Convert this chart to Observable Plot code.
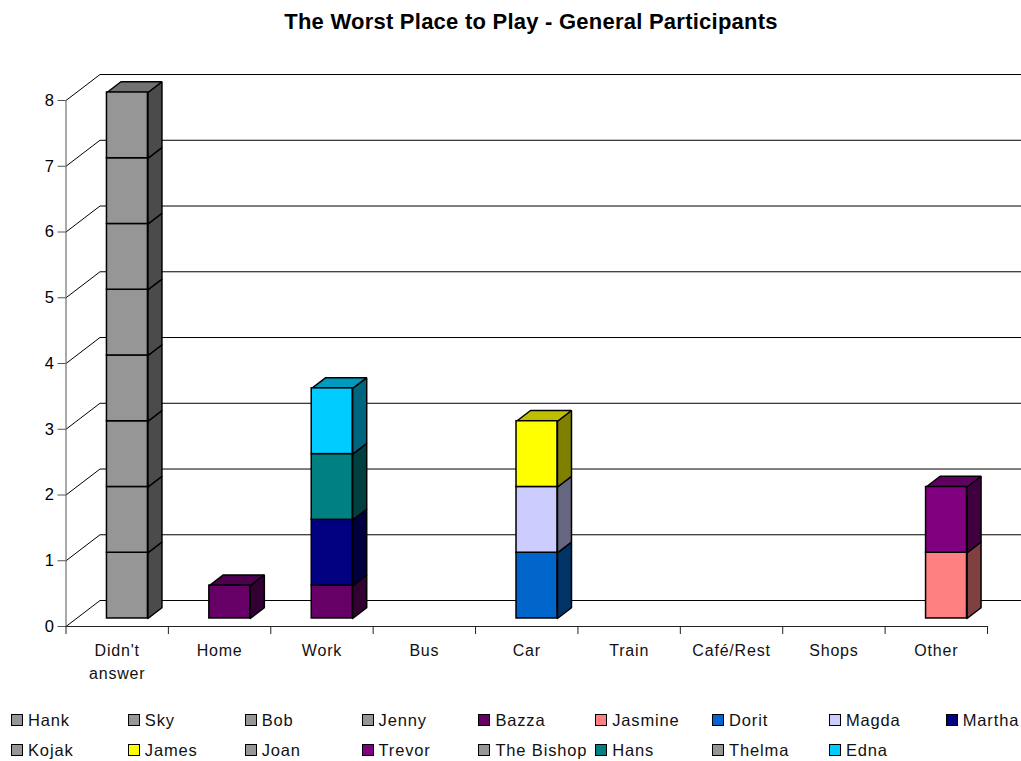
<!DOCTYPE html>
<html>
<head>
<meta charset="utf-8">
<script src="https://cdn.jsdelivr.net/npm/d3@7"></script>
<script src="https://cdn.jsdelivr.net/npm/@observablehq/plot@0.6"></script>
<style>
  html, body { margin: 0; padding: 0; background: #fff; overflow: hidden; }
  body { width: 1021px; height: 761px; font-family: "Liberation Sans", Arial, sans-serif; color: #000; }
  #title { height: 50px; box-sizing: border-box; padding: 10px 0 0 41px; text-align: center; font-size: 22px; letter-spacing: 0.24px; font-weight: bold; line-height: 24px; white-space: nowrap; }
  #chart svg { display: block; }
  #legend { display: grid; grid-template-columns: repeat(9, 116.85px); grid-auto-rows: 30px; padding: 15px 0 0 11px; font-size: 16.5px; letter-spacing: 0.85px; color: #111; }
  .key { display: flex; align-items: center; white-space: nowrap; line-height: 30px; }
  .swatch { width: 10px; height: 10px; border: 1px solid #000; margin-right: 5px; flex: none; }
</style>
</head>
<body>
<div id="title">The Worst Place to Play - General Participants</div>
<div id="chart"></div>
<div id="legend"></div>
<script>
const places = ["Didn't\nanswer", "Home", "Work", "Bus", "Car", "Train", "Café/Rest", "Shops", "Other"];
const people = ["Hank", "Sky", "Bob", "Jenny", "Bazza", "Jasmine", "Dorit", "Magda", "Martha",
                "Kojak", "James", "Joan", "Trevor", "The Bishop", "Hans", "Thelma", "Edna"];
const colors = ["#969696", "#969696", "#969696", "#969696", "#660066", "#FF8080", "#0066CC", "#CCCCFF", "#000080",
                "#969696", "#FFFF00", "#969696", "#800080", "#969696", "#008080", "#969696", "#00CCFF"];

// Votes per place, one list per person, in the order of `places`.
const hank     = [1, 0, 0, 0, 0, 0, 0, 0, 0];
const sky      = [1, 0, 0, 0, 0, 0, 0, 0, 0];
const bob      = [1, 0, 0, 0, 0, 0, 0, 0, 0];
const jenny    = [1, 0, 0, 0, 0, 0, 0, 0, 0];
const bazza    = [0, 0.5, 0.5, 0, 0, 0, 0, 0, 0];
const jasmine  = [0, 0, 0, 0, 0, 0, 0, 0, 1];
const dorit    = [0, 0, 0, 0, 1, 0, 0, 0, 0];
const magda    = [0, 0, 0, 0, 1, 0, 0, 0, 0];
const martha   = [0, 0, 1, 0, 0, 0, 0, 0, 0];
const kojak    = [1, 0, 0, 0, 0, 0, 0, 0, 0];
const james    = [0, 0, 0, 0, 1, 0, 0, 0, 0];
const joan     = [1, 0, 0, 0, 0, 0, 0, 0, 0];
const trevor   = [0, 0, 0, 0, 0, 0, 0, 0, 1];
const bishop   = [1, 0, 0, 0, 0, 0, 0, 0, 0];
const hans     = [0, 0, 1, 0, 0, 0, 0, 0, 0];
const thelma   = [1, 0, 0, 0, 0, 0, 0, 0, 0];
const edna     = [0, 0, 1, 0, 0, 0, 0, 0, 0];
const votes = [hank, sky, bob, jenny, bazza, jasmine, dorit, magda, martha,
               kojak, james, joan, trevor, bishop, hans, thelma, edna];

const yTicks = [0, 1, 2, 3, 4, 5, 6, 7, 8];

// Perspective offsets, expressed in scale units so that everything passes through x and y.
const wallDx = 0.332, wallDy = 0.395;      // depth of the floor
const barDx = 0.137, barDy = 0.163;        // depth of a column
const barLift = 0.122, barShift = 0.1;     // column sits inside the floor
const barHalf = 0.2;
const rightEdge = 9.35;

const shade = (c, k) => { const r = d3.rgb(c); return d3.rgb(r.r * k, r.g * k, r.b * k).formatHex(); };

// Stack the segments per place, in series order.
const segments = [];
const heights = places.map(() => 0);
votes.forEach((row, s) => row.forEach((v, p) => {
  if (v > 0) {
    const cx = p + 0.5 + barShift;
    segments.push({
      person: people[s], color: colors[s],
      x1: cx - barHalf, x2: cx + barHalf,
      y1: barLift + heights[p], y2: barLift + heights[p] + v
    });
    heights[p] += v;
  }
}));

// Side and top faces as closed outlines, lowest segment first.
const faces = [];
segments.forEach((d, i) => {
  const side = [[d.x2, d.y1], [d.x2 + barDx, d.y1 + barDy], [d.x2 + barDx, d.y2 + barDy], [d.x2, d.y2], [d.x2, d.y1]];
  const top = [[d.x1, d.y2], [d.x1 + barDx, d.y2 + barDy], [d.x2 + barDx, d.y2 + barDy], [d.x2, d.y2], [d.x1, d.y2]];
  side.forEach(([x, y]) => faces.push({id: `s${i}`, x, y, fill: shade(d.color, 0.5)}));
  top.forEach(([x, y]) => faces.push({id: `t${i}`, x, y, fill: shade(d.color, 0.75)}));
});

// Floor-to-wall grid lines.
const grid = yTicks.flatMap(k => [
  {k, x: 0, y: k},
  {k, x: wallDx, y: k + wallDy},
  {k, x: rightEdge, y: k + wallDy}
]);

const labels = places.map((name, i) => ({name, x: i + 0.5}));

const chart = Plot.plot({
  width: 1021,
  height: 640,
  marginTop: 50,
  marginBottom: 64,
  marginLeft: 65.5,
  marginRight: 34,
  style: {fontFamily: '"Liberation Sans", Arial, sans-serif', color: "#000", background: "#fff", overflow: "visible"},
  x: {domain: [0, 9], axis: null},
  y: {domain: [0, 8], axis: null},
  color: {type: "identity"},
  marks: [
    Plot.line(grid, {x: "x", y: "y", z: "k", stroke: "#000", strokeWidth: 1}),
    Plot.ruleX([0], {y1: 0, y2: 8, stroke: "#555", strokeWidth: 1}),
    Plot.ruleY([0], {x1: 0, x2: 9, stroke: "#222", strokeWidth: 1}),
    Plot.axisY({ticks: yTicks, tickSize: 8, tickPadding: 4, fontSize: 16.5, label: null, stroke: "#555", tickFormat: d => d}),
    Plot.axisX({ticks: d3.range(10), tickSize: 8, fill: "none", label: null, stroke: "#222"}),
    Plot.text(labels, {x: "x", text: "name", frameAnchor: "bottom", lineAnchor: "top", dy: 13, fontSize: 16, lineHeight: 1.44, fill: "#111"}),
    Plot.line(faces, {x: "x", y: "y", z: "id", fill: "fill", stroke: "#000", strokeWidth: 1.5, strokeLinejoin: "miter"}),
    Plot.rect(segments, {x1: "x1", x2: "x2", y1: "y1", y2: "y2", fill: "color", stroke: "#000", strokeWidth: 1.5})
  ]
});
chart.querySelectorAll('g[aria-label="text"]').forEach(g => g.setAttribute("letter-spacing", "0.8"));
document.getElementById("chart").append(chart);

// Two-row key below the plot.
const legend = document.getElementById("legend");
people.forEach((name, i) => {
  const key = document.createElement("div");
  key.className = "key";
  const swatch = document.createElement("span");
  swatch.className = "swatch";
  swatch.style.background = colors[i];
  key.append(swatch, document.createTextNode(name));
  legend.append(key);
});
</script>
</body>
</html>
